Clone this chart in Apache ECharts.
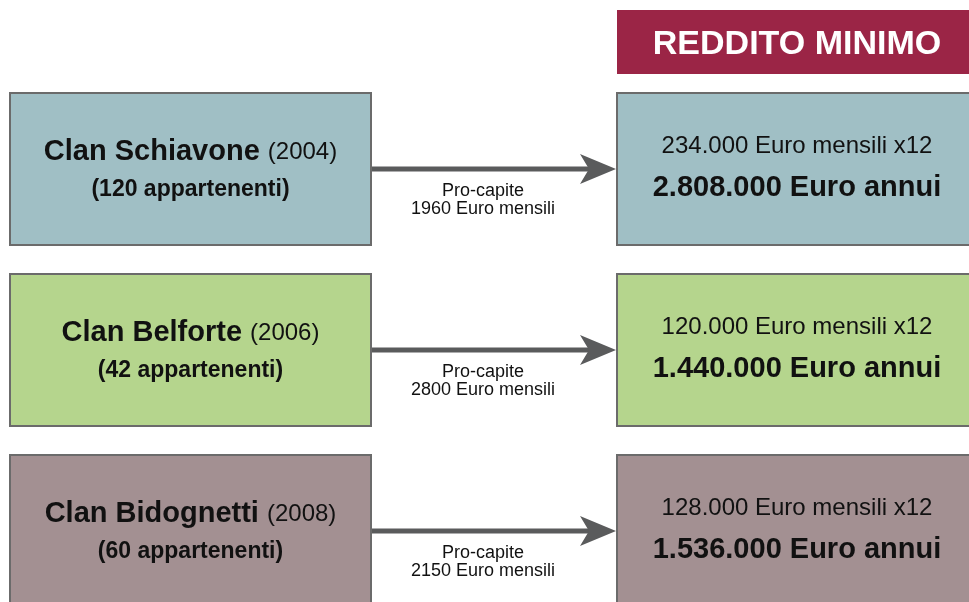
<!DOCTYPE html>
<html>
<head>
<meta charset="utf-8">
<script src="https://cdn.jsdelivr.net/npm/echarts@6/dist/echarts.min.js"></script>
<style>
  html, body { margin: 0; padding: 0; background: #fff; }
  #chart { width: 969px; height: 602px; }
</style>
</head>
<body>
<div id="chart"></div>
<script>
// dati del grafico
const clans = ["Clan Schiavone", "Clan Belforte", "Clan Bidognetti"];
const years = ["2004", "2006", "2008"];
const members = ["120", "42", "60"];
const perCapita = ["1960", "2800", "2150"];
const monthly = ["234.000", "120.000", "128.000"];
const annual = ["2.808.000", "1.440.000", "1.536.000"];
const header = "REDDITO MINIMO";

const boxColors = ["#a0bfc5", "#b5d58d", "#a39092"];
const FONT = "'Liberation Sans', Arial, sans-serif";

const chart = echarts.init(document.getElementById("chart"));

function renderItem(params, api) {
  const i = api.value(1);
  const cy = api.coord([0, i])[1];
  const bandH = api.size([0, 1])[1];
  const h = bandH * 0.84;
  const top = cy - h / 2;
  const lx0 = api.coord([10, i])[0];
  const lx1 = api.coord([371, i])[0];
  const rx0 = api.coord([617, i])[0];
  const rx1 = api.coord([980, i])[0];
  const fill = boxColors[i];
  const border = { stroke: "#6b6b6b", lineWidth: 2 };

  return {
    type: "group",
    children: [
      // box sinistro
      {
        type: "rect",
        shape: { x: lx0, y: top, width: lx1 - lx0, height: h },
        style: Object.assign({ fill: fill }, border)
      },
      {
        type: "text",
        x: (lx0 + lx1) / 2,
        y: cy + 2,
        style: {
          text: "{b|" + clans[i] + " }{n|(" + years[i] + ")}\n{s|(" + members[i] + " appartenenti)}",
          align: "center",
          verticalAlign: "middle",
          fontFamily: FONT,
          fill: "#111",
          rich: {
            b: { fontSize: 29, fontWeight: "bold", lineHeight: 38, fontFamily: FONT, fill: "#111" },
            n: { fontSize: 24, lineHeight: 38, fontFamily: FONT, fill: "#111" },
            s: { fontSize: 23, fontWeight: "bold", lineHeight: 38, fontFamily: FONT, fill: "#111" }
          }
        }
      },
      // freccia
      {
        type: "rect",
        shape: { x: lx1 + 1, y: cy - 2.5, width: rx0 - 26 - lx1, height: 5 },
        style: { fill: "#5a5b5c" }
      },
      {
        type: "polygon",
        shape: {
          points: [
            [rx0 - 1, cy],
            [rx0 - 37, cy - 15],
            [rx0 - 28, cy],
            [rx0 - 37, cy + 15]
          ]
        },
        style: { fill: "#5a5b5c" }
      },
      {
        type: "text",
        x: (lx1 + rx0) / 2 - 11,
        y: cy + 31.5,
        style: {
          text: "Pro-capite\n" + perCapita[i] + " Euro mensili",
          align: "center",
          verticalAlign: "middle",
          fontFamily: FONT,
          fontSize: 18,
          lineHeight: 18,
          fill: "#111"
        }
      },
      // box destro
      {
        type: "rect",
        shape: { x: rx0, y: top, width: rx1 - rx0, height: h },
        style: Object.assign({ fill: fill }, border)
      },
      {
        type: "text",
        x: 797,
        y: cy - 2,
        style: {
          text: "{m|" + monthly[i] + " Euro mensili x12}\n{a|" + annual[i] + " Euro annui}",
          align: "center",
          verticalAlign: "middle",
          fontFamily: FONT,
          fill: "#111",
          rich: {
            m: { fontSize: 24, lineHeight: 41, fontFamily: FONT, fill: "#111" },
            a: { fontSize: 29, fontWeight: "bold", lineHeight: 41, fontFamily: FONT, fill: "#111" }
          }
        }
      }
    ]
  };
}

// asse y a valori: riga 0 centrata a 169px, passo 181px
const rowStep = 181;
const yMin = -169 / rowStep;
const yMax = yMin + 602 / rowStep;

const option = {
  backgroundColor: "#fff",
  animation: false,
  grid: { left: 0, right: 0, top: 0, bottom: 0, containLabel: false },
  xAxis: { type: "value", min: 0, max: 969, show: false },
  yAxis: { type: "value", min: yMin, max: yMax, inverse: true, show: false },
  graphic: [
    {
      type: "group",
      left: 617,
      top: 10,
      children: [
        { type: "rect", shape: { x: 0, y: 0, width: 360, height: 64 }, style: { fill: "#9b2546" } },
        {
          type: "text",
          x: 180,
          y: 35,
          style: {
            text: header,
            align: "center",
            verticalAlign: "middle",
            fontFamily: FONT,
            fontWeight: "bold",
            fontSize: 34,
            fill: "#fff"
          }
        }
      ]
    }
  ],
  series: [
    {
      type: "custom",
      renderItem: renderItem,
      encode: { x: 0, y: 1 },
      clip: false,
      silent: true,
      data: clans.map((c, i) => [0, i])
    }
  ]
};

chart.setOption(option);
</script>
</body>
</html>
